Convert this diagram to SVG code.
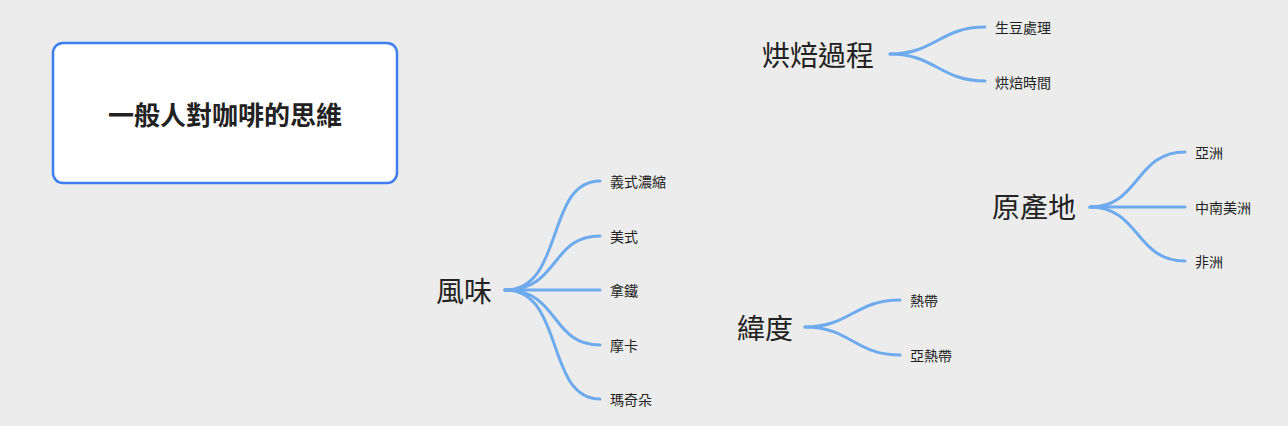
<svg xmlns="http://www.w3.org/2000/svg" width="1288" height="426" viewBox="0 0 1288 426">
<style>
.c{fill:none;stroke:#6eaaee;stroke-width:3;stroke-linecap:round}
.t{font-family:"Noto Sans CJK TC","Noto Sans CJK SC",sans-serif;fill:#222}
.m{font-size:28px;dominant-baseline:central}
.l{font-size:14px;dominant-baseline:central}
</style>
<rect width="1288" height="426" fill="#ececec"/>
<g id="root"><rect x="53" y="43" width="344" height="140" rx="10" fill="#fff" stroke="#3f7ef0" stroke-width="2.5"/>
<text class="t" x="225" y="113" font-size="26" font-weight="bold" text-anchor="middle" dominant-baseline="central">一般人對咖啡的思維</text></g>
<g id="connectors">
<path class="c" d="M890 54 C935 54,940 27,985 27"/><path class="c" d="M890 54 C935 54,940 81,985 81"/>
<path class="c" d="M1090 207 C1140 207,1135 152,1185 152"/><path class="c" d="M1090 207 L1185 207"/><path class="c" d="M1090 207 C1140 207,1135 261,1185 261"/>
<path class="c" d="M505 290 C565 290,545 181,600 181"/><path class="c" d="M505 290 C560 290,550 236,600 236"/><path class="c" d="M505 290 L600 290"/><path class="c" d="M505 290 C560 290,550 345,600 345"/><path class="c" d="M505 290 C565 290,545 399,600 399"/>
<path class="c" d="M805 327 C850 327,855 300,900 300"/><path class="c" d="M805 327 C850 327,855 355,900 355"/>
</g>
<g id="n1"><text class="t m" x="762" y="54">烘焙過程</text><text class="t l" x="995" y="27">生豆處理</text><text class="t l" x="995" y="82">烘焙時間</text></g>
<g id="n2"><text class="t m" x="992" y="206">原產地</text><text class="t l" x="1195" y="152">亞洲</text><text class="t l" x="1195" y="207">中南美洲</text><text class="t l" x="1195" y="261">非洲</text></g>
<g id="n3"><text class="t m" x="436" y="290">風味</text><text class="t l" x="610" y="181">義式濃縮</text><text class="t l" x="610" y="236">美式</text><text class="t l" x="610" y="290">拿鐵</text><text class="t l" x="610" y="345">摩卡</text><text class="t l" x="610" y="399">瑪奇朵</text></g>
<g id="n4"><text class="t m" x="737" y="327">緯度</text><text class="t l" x="910" y="300">熱帶</text><text class="t l" x="910" y="355">亞熱帶</text></g>
</svg>
